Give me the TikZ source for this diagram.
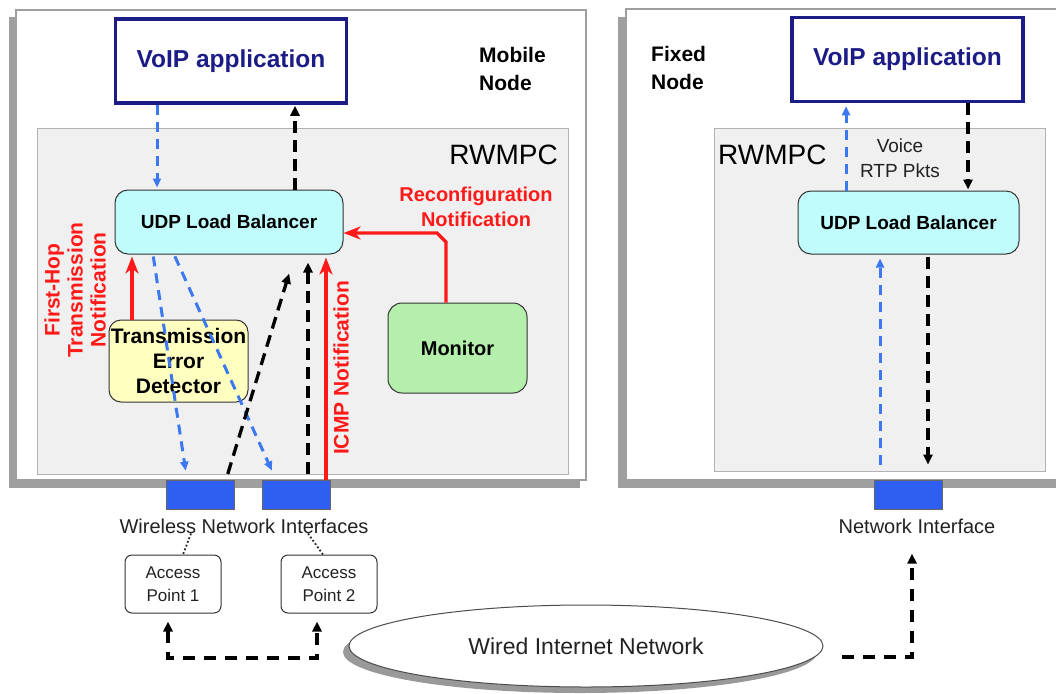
\documentclass[tikz,border=0pt]{standalone}
\usepackage{fontspec}
\setmainfont{Liberation Sans}
\usetikzlibrary{arrows.meta,shapes.geometric,calc}
\definecolor{navy}{HTML}{1C1C86}
\definecolor{myred}{HTML}{FF1A1A}
\definecolor{myblue}{HTML}{3C78F0}
\definecolor{ifblue}{HTML}{2F5FF0}
\definecolor{cyanf}{HTML}{C0FCFC}
\definecolor{yelf}{HTML}{FFFFC0}
\definecolor{grnf}{HTML}{B4F0AC}
\definecolor{innerf}{HTML}{F0F0F0}
\definecolor{txtgray}{HTML}{222222}
\newcommand{\fsz}[2]{\fontsize{#1}{#2}\selectfont}
\tikzset{
  outerbox/.style={draw=gray!75, line width=1.2pt, fill=white},
  shadowfill/.style={fill=gray!75, draw=none},
  innerbox/.style={draw=gray!60, line width=1pt, fill=innerf},
  voipbox/.style={draw=navy, line width=3.5pt, fill=white, text=navy, font=\bfseries\fsz{24.5}{28}, minimum width=231pt, minimum height=84pt, inner sep=0pt},
  udpbox/.style={draw=black!80, line width=1pt, fill=cyanf, rounded corners=13pt, font=\bfseries\fsz{19}{22}, minimum width=228pt, minimum height=64pt, inner sep=0pt},
  tedbox/.style={draw=black!80, line width=1pt, fill=yelf, rounded corners=12pt, font=\bfseries\fsz{21}{25}, align=center, minimum width=139pt, minimum height=82pt, inner sep=0pt},
  monbox/.style={draw=black!80, line width=1pt, fill=grnf, rounded corners=14pt, font=\bfseries\fsz{20}{24}, minimum width=139pt, minimum height=90pt, inner sep=0pt},
  nodelabel/.style={font=\bfseries\fsz{21}{28}, align=left, inner sep=0pt},
  rwlabel/.style={font=\fsz{28}{32}, inner sep=0pt},
  redlabel/.style={text=myred, font=\bfseries\fsz{21}{23}, align=center, inner sep=0pt},
  plainlabel/.style={text=txtgray, font=\fsz{20}{25}, align=center, inner sep=0pt},
  ifbox/.style={fill=ifblue, draw=black!60, line width=0.8pt, minimum width=68pt, minimum height=29pt, inner sep=0pt},
  apbox/.style={draw=black!80, line width=1pt, fill=white, rounded corners=7pt, text=txtgray, font=\fsz{17}{23}, align=center, minimum width=96pt, minimum height=58pt, inner sep=0pt},
  ellbox/.style={ellipse, draw=black!70, line width=1pt, fill=white, minimum width=474pt, minimum height=82pt, inner sep=0pt, text=txtgray, font=\fsz{23}{26}},
  ellshadow/.style={ellipse, fill=gray!80, draw=none, minimum width=474pt, minimum height=82pt, inner sep=0pt},
  bdash/.style={draw=myblue, line width=3pt, dash pattern=on 10pt off 7pt},
  kdash/.style={draw=black, line width=3.3pt, dash pattern=on 12pt off 7pt},
  kdash2/.style={draw=black, line width=3.3pt, dash pattern=on 12pt off 9pt},
  redline/.style={draw=myred, line width=3.3pt},
  barrow/.style={-{Triangle[length=9pt,width=8pt]}},
  karrow/.style={-{Triangle[length=10pt,width=9pt]}},
  rarrow/.style={-{Stealth[length=17pt,width=13pt,inset=5pt]}},
  dotline/.style={draw=black!85, line width=1.8pt, dash pattern=on 1.8pt off 2.2pt}
}
\begin{document}
\begin{tikzpicture}[x=1pt,y=-1pt]
\useasboundingbox (0,0) rectangle (1056,693);
\clip (0,0) rectangle (1056,693);
\fill[white] (0,0) rectangle (1056,693);
% mobile node frame
\fill[shadowfill] (9,17) rectangle (580,488);
\draw[outerbox] (16,10) rectangle (586,480);
\draw[innerbox] (37,128) rectangle (568,474);
% fixed node frame
\fill[shadowfill] (618,17) rectangle (1070,488);
\draw[outerbox] (626,9) rectangle (1070,480);
\draw[innerbox] (714,128) rectangle (1045,471);

% nodes
\node[voipbox] (mvoip) at (231,61) {VoIP application};
\node[voipbox] (fvoip) at (907.5,59.5) {VoIP application};
\node[nodelabel, anchor=west] (mname) at (479,69) {Mobile\\Node};
\node[nodelabel, anchor=west] (fname) at (651,68) {Fixed\\Node};
\node[rwlabel, anchor=east] (mrw) at (558,155) {RWMPC};
\node[rwlabel, anchor=west] (frw) at (718,155) {RWMPC};
\node[udpbox] (mudp) at (229,222) {UDP Load Balancer};
\node[udpbox, minimum width=221pt, minimum height=63pt] (fudp) at (908.5,222.5) {UDP Load Balancer};
\node[tedbox] (ted) at (178.5,361) {Transmission\\Error\\Detector};
\node[monbox] (mon) at (457.5,348) {Monitor};
\node[redlabel, font=\bfseries\fsz{20}{25}] (reconf) at (476,207) {Reconfiguration\\Notification};
\node[redlabel, rotate=90] (fhop) at (75,290) {First-Hop\\Transmission\\Notification};
\node[redlabel, rotate=90] (icmp) at (341,368) {ICMP Notification};
\node[plainlabel, font=\fsz{19}{25}] (voice) at (900,158) {Voice\\RTP Pkts};
\node[ifbox] (if1) at (200,494.5) {};
\node[ifbox] (if2) at (296,494.5) {};
\node[ifbox] (if3) at (908.5,494.5) {};
\node[plainlabel] (wlabel) at (244,526) {Wireless Network Interfaces};
\node[plainlabel] (nlabel) at (917,526) {Network Interface};
\node[apbox] (ap1) at (173,584) {Access\\Point 1};
\node[apbox] (ap2) at (329,584) {Access\\Point 2};
\node[ellshadow] (wshadow) at (580,652) {};
\node[ellbox] (wired) at (586,646) {Wired Internet Network};

% mobile connectors
\draw[bdash,barrow,shorten >=2pt] (157,0 |- mvoip.south) -- (157,0 |- mudp.north);
\draw[kdash,karrow,shorten >=1pt] (295,0 |- mudp.north) -- (295,0 |- mvoip.south);
\draw[redline,rarrow,shorten >=2pt] (132,0 |- ted.north) -- (132,0 |- mudp.south);
\draw[redline,rarrow] (446,0 |- mon.north) -- (446,242) -- (437,233) -- (mudp.east |- 0,233);
\draw[redline,rarrow,shorten >=3pt] (326,0 |- if2.north) -- (326,0 |- mudp.south);
\draw[bdash,barrow,shorten >=9pt,shorten <=2pt] (153,0 |- mudp.south) -- (187,0 |- if1.north);
\draw[bdash,barrow,shorten >=10pt,shorten <=2pt] (174,0 |- mudp.south) -- (276,0 |- if2.north);
\draw[kdash,karrow,shorten >=20pt,shorten <=6pt] (226,0 |- if1.north) -- (295,0 |- mudp.south);
\draw[kdash,karrow,shorten >=8pt,shorten <=6pt] (308,0 |- if2.north) -- (308,0 |- mudp.south);

% fixed connectors
\draw[bdash,barrow,shorten >=3pt] (846,0 |- fudp.north) -- (846,0 |- fvoip.south);
\draw[kdash,karrow,shorten >=1pt] (968,0 |- fvoip.south) -- (968,0 |- fudp.north);
\draw[bdash,barrow,shorten >=4pt,shorten <=15pt] (880,0 |- if3.north) -- (880,0 |- fudp.south);
\draw[kdash,karrow,shorten >=15pt,shorten <=2pt] (928,0 |- fudp.south) -- (928,0 |- if3.north);

% dotted links to access points
\draw[dotline] (191,0 |- wlabel.south) -- (183,0 |- ap1.north);
\draw[dotline] (308,0 |- wlabel.south) -- (323,0 |- ap2.north);

% wired network links
\coordinate (c1) at (168,658);
\coordinate (c2) at (317,658);
\coordinate (c3) at (842,657);
\coordinate (c4) at (912,657);
\draw[kdash2,{Triangle[length=10pt,width=9pt]}-{Triangle[length=10pt,width=9pt]},shorten <=8pt,shorten >=8pt] (c1 |- ap1.south) -- (c1) -- (c2) -- (c2 |- ap2.south);
\draw[kdash2,karrow,shorten >=20pt] (c3) -- (c4) -- (c4 |- nlabel.south);
\end{tikzpicture}
\end{document}
